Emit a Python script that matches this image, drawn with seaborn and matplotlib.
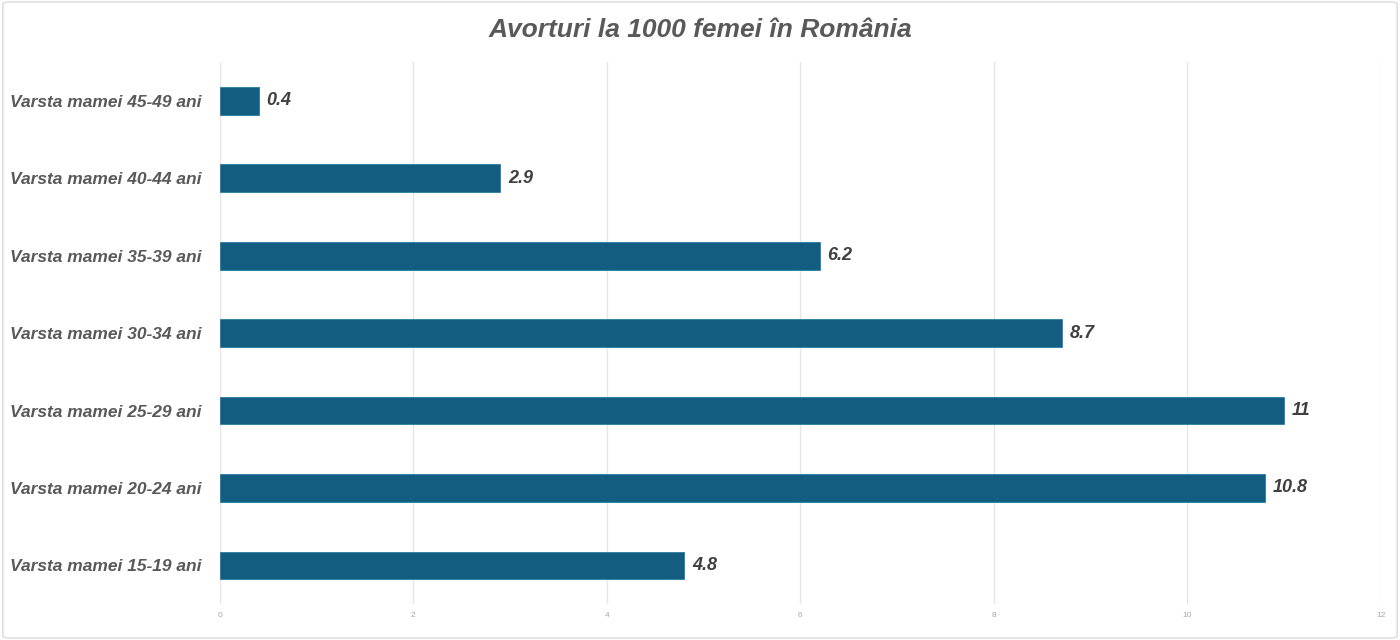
import numpy as np
import pandas as pd
import matplotlib
matplotlib.use("Agg")
import matplotlib.pyplot as plt
import seaborn as sns
from matplotlib.patches import FancyBboxPatch

# Date
categorii = ["Varsta mamei 45-49 ani", "Varsta mamei 40-44 ani", "Varsta mamei 35-39 ani",
             "Varsta mamei 30-34 ani", "Varsta mamei 25-29 ani", "Varsta mamei 20-24 ani",
             "Varsta mamei 15-19 ani"]
valori = [0.4, 2.9, 6.2, 8.7, 11, 10.8, 4.8]
etichete = ["0.4", "2.9", "6.2", "8.7", "11", "10.8", "4.8"]
titlu = "Avorturi la 1000 femei în România"

sns.set_theme(style="white")
plt.rcParams['font.family'] = ['Liberation Sans', 'DejaVu Sans']

df = pd.DataFrame({"Categorie": categorii, "Valoare": valori})

fig = plt.figure(figsize=(14, 6.4), dpi=100)
ax = fig.add_axes([0.157, 0.056, 0.8294, 0.847])

sns.barplot(data=df, x="Valoare", y="Categorie", color="#135E80", width=0.36,
            saturation=1, ax=ax, edgecolor="#2a7ba0", linewidth=0.6)

ax.set_xlim(0, 12)
ax.set_ylim(6.5, -0.5)
ax.set_xticks(np.arange(0, 13, 2))
ax.grid(axis="x", color="#e6e6e6", linewidth=1)
ax.set_axisbelow(True)
for s in ax.spines.values():
    s.set_visible(False)
ax.set_xlabel("")
ax.set_ylabel("")
ax.tick_params(axis="x", labelsize=6, colors="#a6a6a6", length=0, pad=6)
ax.tick_params(axis="y", length=0, pad=13.5)
for lbl in ax.get_yticklabels():
    lbl.set_fontsize(12.5)
    lbl.set_fontstyle("italic")
    lbl.set_fontweight("bold")
    lbl.set_color("#595959")

for i, (v, t) in enumerate(zip(valori, etichete)):
    ax.text(v + 0.08, i, t, va="center", ha="left", fontsize=13,
            fontstyle="italic", fontweight="bold", color="#404040")

fig.text(0.5, 0.953, titlu, ha="center", va="center", fontsize=19,
         fontstyle="italic", fontweight="bold", color="#595959")

# chenar
border = FancyBboxPatch((0.002, 0.003), 0.996, 0.994, boxstyle="round,pad=0,rounding_size=0.004",
                        transform=fig.transFigure, fill=False, edgecolor="#d9d9d9", linewidth=1)
fig.patches.append(border)

fig.savefig("out.png", dpi=100)
